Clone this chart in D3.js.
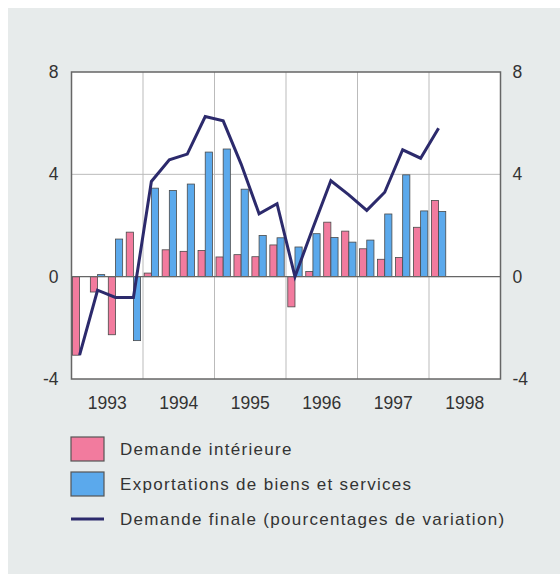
<!DOCTYPE html>
<meta charset="utf-8">
<style>
body { margin: 0; background: #fff; }
text { font-family: "Liberation Sans", Arial, sans-serif; fill: #333; }
</style>
<svg width="560" height="574"></svg>
<script src="https://cdn.jsdelivr.net/npm/d3@7"></script>
<script>
var years = ["1993", "1994", "1995", "1996", "1997", "1998"];
var quarters = [];
years.forEach(function(y) { for (var q = 1; q <= 4; q++) quarters.push(y + "Q" + q); });
var yTicks = [-4, 0, 4, 8];

// 1993Q1 .. 1998Q1
var demandeInterieure = [-3.07, -0.6, -2.27, 1.74, 0.14, 1.05, 0.99, 1.02, 0.77, 0.86, 0.78, 1.24,
  -1.18, 0.2, 2.13, 1.78, 1.09, 0.68, 0.75, 1.93, 2.98];
var exportations = [0, 0.08, 1.47, -2.5, 3.46, 3.37, 3.62, 4.87, 4.99, 3.42, 1.61, 1.52,
  1.16, 1.68, 1.53, 1.35, 1.43, 2.45, 3.98, 2.57, 2.55];
var demandeFinale = [-3.07, -0.53, -0.81, -0.81, 3.72, 4.57, 4.79, 6.26, 6.09, 4.4, 2.46, 2.85,
  0, 1.9, 3.75, 3.2, 2.59, 3.3, 4.96, 4.63, 5.8];

var legendLabels = ["Demande intérieure", "Exportations de biens et services", "Demande finale (pourcentages de variation)"];
var pink = "#f27b9e", blue = "#5ba9ec", navy = "#2c2a6c";

var svg = d3.select("svg");
svg.append("rect").attr("x", 8).attr("y", 8).attr("width", 552).attr("height", 566).attr("fill", "#e7ebeb");

var margin = {left: 71.5, top: 72, right: 59.5, bottom: 195},
    width = 560 - margin.left - margin.right,
    height = 574 - margin.top - margin.bottom;
var g = svg.append("g").attr("transform", "translate(" + margin.left + "," + margin.top + ")");

var xYear = d3.scaleBand().domain(years).range([0, width]);
var xq = d3.scaleBand().domain(quarters).range([0, width]).paddingInner(0.2).paddingOuter(0.05);
var xs = d3.scaleBand().domain(["d", "e"]).range([0, xq.bandwidth()]);
var y = d3.scaleLinear().domain([-4, 8]).range([height, 0]);

g.append("rect").attr("width", width).attr("height", height).attr("fill", "#fff");

// gridlines
g.selectAll(".vgrid").data(years.slice(1)).enter().append("line")
  .attr("x1", function(d) { return xYear(d); }).attr("x2", function(d) { return xYear(d); })
  .attr("y1", 0).attr("y2", height).attr("stroke", "#bbb").attr("stroke-width", 1);
g.append("line").attr("x1", 0).attr("x2", width).attr("y1", y(4)).attr("y2", y(4))
  .attr("stroke", "#bbb").attr("stroke-width", 1);

// bars
var qData = demandeInterieure.map(function(v, i) { return {q: quarters[i], d: v, e: exportations[i], f: demandeFinale[i]}; });
function bars(key, color) {
  g.selectAll(".bar-" + key).data(qData).enter().append("rect")
    .attr("x", function(d) { return xq(d.q) + xs(key); })
    .attr("width", xs.bandwidth())
    .attr("y", function(d) { return y(Math.max(0, d[key])); })
    .attr("height", function(d) { return Math.abs(y(d[key]) - y(0)); })
    .attr("fill", color).attr("stroke", "#4a4a4a").attr("stroke-width", 0.8);
}
bars("d", pink);
bars("e", blue);

g.append("line").attr("x1", 0).attr("x2", width).attr("y1", y(0)).attr("y2", y(0))
  .attr("stroke", "#666").attr("stroke-width", 1.2);

var line = d3.line()
  .x(function(d) { return xq(d.q) + xq.bandwidth() / 2; })
  .y(function(d) { return y(d.f); });
g.append("path").datum(qData).attr("d", line)
  .attr("fill", "none").attr("stroke", navy).attr("stroke-width", 3).attr("stroke-linejoin", "miter");

// frame
g.append("rect").attr("width", width).attr("height", height)
  .attr("fill", "none").attr("stroke", "#666").attr("stroke-width", 1.5);

// axes labels
var fmt = function(d) { return String(d); };
var leftAxis = d3.axisLeft(y).tickValues(yTicks).tickFormat(fmt).tickSize(0).tickPadding(13);
var rightAxis = d3.axisRight(y).tickValues(yTicks).tickFormat(fmt).tickSize(0).tickPadding(12);
var bottomAxis = d3.axisBottom(xYear).tickSize(0).tickPadding(18);
[g.append("g").call(leftAxis),
 g.append("g").attr("transform", "translate(" + width + ",0)").call(rightAxis),
 g.append("g").attr("transform", "translate(0," + height + ")").call(bottomAxis)].forEach(function(a) {
  a.select(".domain").remove();
  a.selectAll("text").style("font-size", "17.5px").attr("fill", "#333").style("font-family", "'Liberation Sans', Arial, sans-serif");
});

// legend
var leg = svg.append("g").attr("transform", "translate(71,437)");
var items = leg.selectAll("g").data(legendLabels).enter().append("g")
  .attr("transform", function(d, i) { return "translate(0," + (i * 35) + ")"; });
items.filter(function(d, i) { return i < 2; }).append("rect")
  .attr("width", 33).attr("height", 24)
  .attr("fill", function(d, i) { return i === 0 ? pink : blue; })
  .attr("stroke", "#555").attr("stroke-width", 1.2);
items.filter(function(d, i) { return i === 2; }).append("line")
  .attr("x1", 0).attr("x2", 33).attr("y1", 12).attr("y2", 12)
  .attr("stroke", navy).attr("stroke-width", 3);
items.append("text").attr("x", 49).attr("y", 12).attr("dy", "0.35em")
  .style("font-size", "17px").style("letter-spacing", "1.3px").text(function(d) { return d; });
</script>
